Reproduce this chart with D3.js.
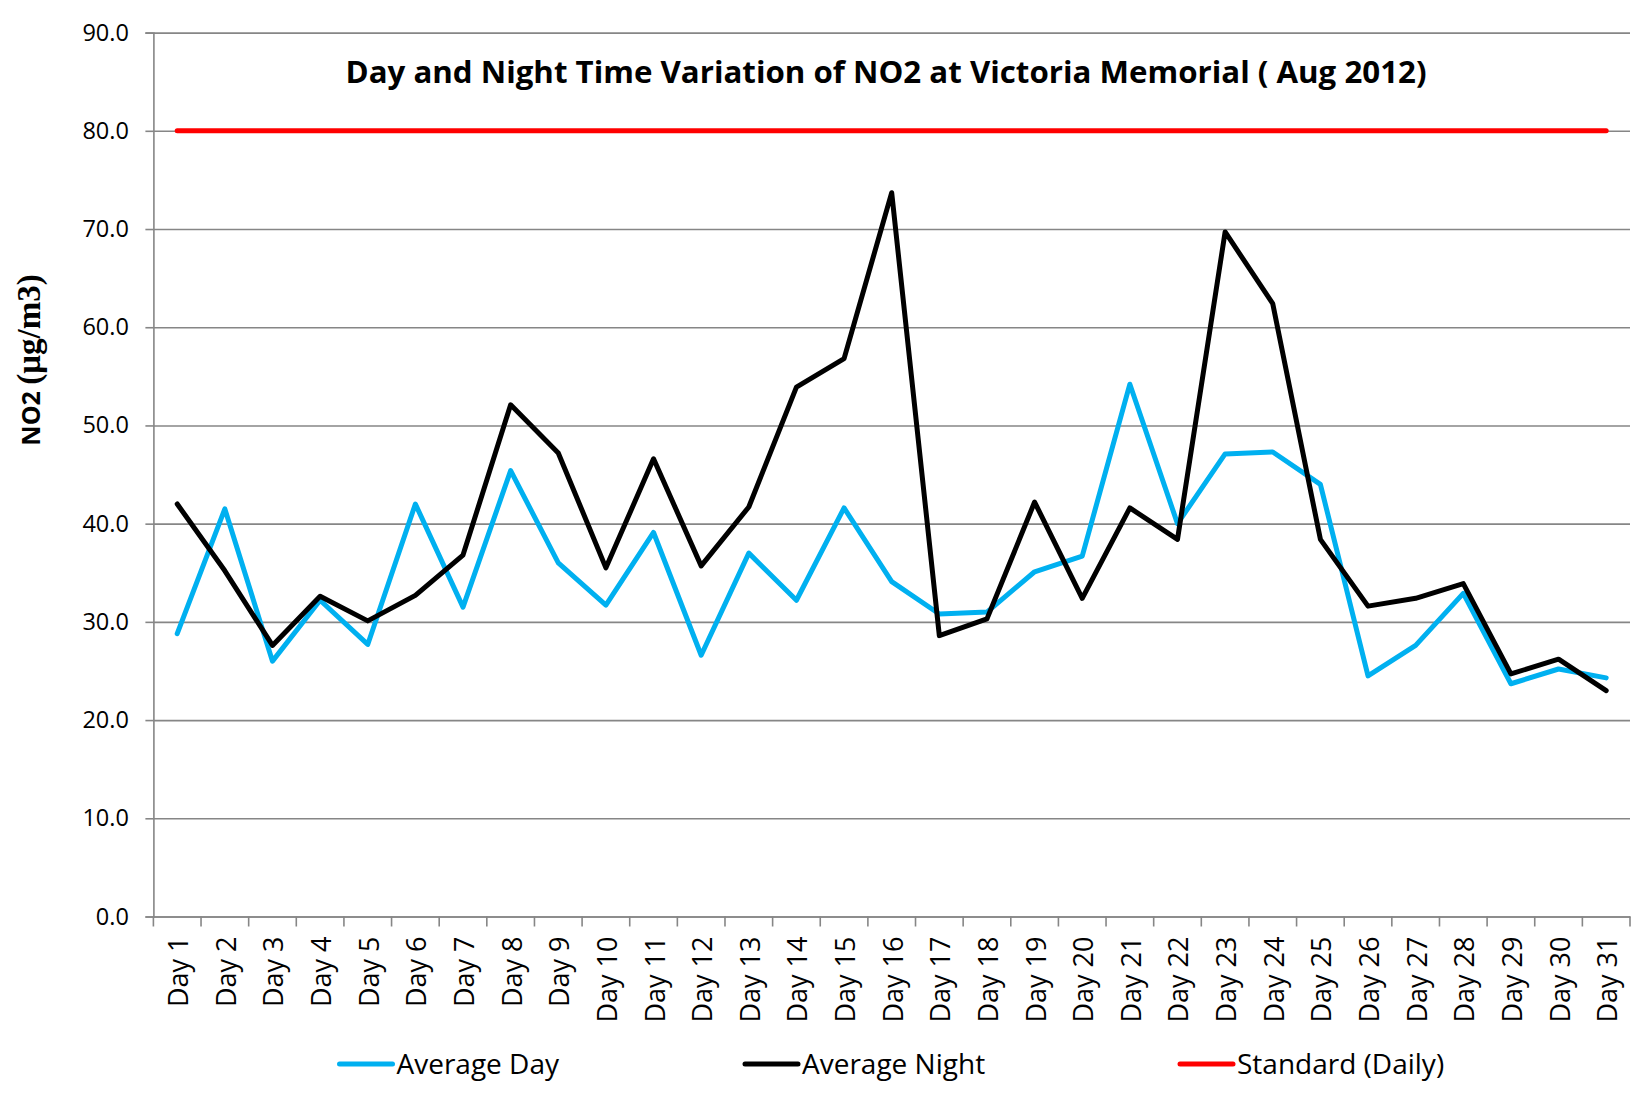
<!DOCTYPE html>
<html>
<head>
<meta charset="utf-8">
<script src="https://cdn.jsdelivr.net/npm/d3@7/dist/d3.min.js"></script>
<style>
  html, body { margin: 0; padding: 0; background: #fff; }
  svg { display: block; }
</style>
</head>
<body>
<svg id="chart" width="1648" height="1094"></svg>
<script>
const categories = ["Day 1","Day 2","Day 3","Day 4","Day 5","Day 6","Day 7","Day 8","Day 9","Day 10",
  "Day 11","Day 12","Day 13","Day 14","Day 15","Day 16","Day 17","Day 18","Day 19","Day 20",
  "Day 21","Day 22","Day 23","Day 24","Day 25","Day 26","Day 27","Day 28","Day 29","Day 30","Day 31"];
const averageDay = [28.8,41.5,26.0,32.2,27.7,42.0,31.5,45.4,36.0,31.7,
  39.1,26.6,37.0,32.2,41.6,34.1,30.8,31.0,35.1,36.7,
  54.2,40.0,47.1,47.3,44.0,24.5,27.6,32.9,23.7,25.2,24.3];
const averageNight = [42.0,35.2,27.6,32.6,30.1,32.7,36.8,52.1,47.2,35.5,
  46.6,35.7,41.7,53.9,56.8,73.7,28.6,30.3,42.2,32.4,
  41.6,38.4,69.7,62.4,38.4,31.6,32.4,33.9,24.7,26.2,23.0];
const standardDaily = [80,80,80,80,80,80,80,80,80,80,80,80,80,80,80,80,80,80,80,80,80,80,80,80,80,80,80,80,80,80,80];
const yTicks = [0,10,20,30,40,50,60,70,80,90];
const seriesNames = ["Average Day","Average Night","Standard (Daily)"];
const seriesColors = ["#00B0F0","#000000","#FF0000"];
const titleText = "Day and Night Time Variation of NO2 at Victoria Memorial ( Aug 2012)";

const svg = d3.select("#chart");
const pLeft = 153.4, pRight = 1630, pTop = 32.6, pBottom = 916.5;
const x = d3.scaleBand().domain(categories).range([pLeft, pRight]).paddingInner(0).paddingOuter(0);
const y = d3.scaleLinear().domain([0, 90]).range([pBottom, pTop]);
const cx = d => x(d) + x.bandwidth() / 2;
const gridColor = "#868686";
const font = "'Open Sans', 'Noto Sans', sans-serif";

// gridlines with left ticks
const yAxis = d3.axisLeft(y).tickValues(yTicks).tickSize(8).tickFormat(d3.format(".1f")).tickPadding(16.5);
const gy = svg.append("g").attr("transform", `translate(${pLeft},0)`).call(yAxis);
gy.select(".domain").attr("stroke", gridColor).attr("stroke-width", 1.6);
gy.selectAll(".tick line").attr("stroke", gridColor).attr("stroke-width", 1.6);
gy.selectAll(".tick text").attr("font-family", font).attr("font-size", 23.5).attr("fill", "#000");
gy.selectAll(".tick").append("line")
  .attr("x1", 0).attr("x2", pRight - pLeft).attr("stroke", gridColor).attr("stroke-width", 1.6);

// x axis
const xAxis = d3.axisBottom(x).tickSize(0).tickPadding(0);
const gx = svg.append("g").attr("transform", `translate(0,${pBottom})`).call(xAxis);
gx.select(".domain").attr("stroke", gridColor).attr("stroke-width", 1.6);
gx.selectAll(".tick text")
  .attr("font-family", font).attr("font-size", 27).attr("fill", "#000")
  .attr("text-anchor", "end")
  .attr("transform", "translate(11,20) rotate(-90)")
  .attr("x", 0).attr("y", 0).attr("dy", 0);
// boundary ticks
const bounds = categories.map(c => x(c)).concat([pRight]);
gx.selectAll(".btick").data(bounds).enter().append("line")
  .attr("x1", d => d).attr("x2", d => d).attr("y1", 0).attr("y2", 10)
  .attr("stroke", gridColor).attr("stroke-width", 1.6);

// lines
const line = d3.line().x((d, i) => cx(categories[i])).y(d => y(d));
[averageDay, averageNight, standardDaily].forEach((s, i) => {
  svg.append("path").datum(s).attr("d", line)
    .attr("fill", "none").attr("stroke", seriesColors[i]).attr("stroke-width", 5)
    .attr("stroke-linejoin", "round").attr("stroke-linecap", "round");
});

// title
svg.append("text").attr("x", 886).attr("y", 83).attr("text-anchor", "middle")
  .attr("font-family", font).attr("font-weight", "bold").attr("font-size", 30)
  .attr("textLength", 1081).attr("lengthAdjust", "spacingAndGlyphs")
  .text(titleText);

// y title
const yt = svg.append("text").attr("transform", "translate(39.5,360) rotate(-90)")
  .attr("text-anchor", "middle").attr("font-weight", "bold");
yt.append("tspan").attr("font-family", font).attr("font-size", 25).text("NO2 ");
yt.append("tspan").attr("font-family", "'Liberation Serif', serif").attr("font-size", 33).text("(μg/m3)");

// legend
const legendX = [339.5, 745, 1180];
seriesNames.forEach((n, i) => {
  svg.append("line").attr("x1", legendX[i]).attr("x2", legendX[i] + 53)
    .attr("y1", 1064).attr("y2", 1064)
    .attr("stroke", seriesColors[i]).attr("stroke-width", 5).attr("stroke-linecap", "round");
  svg.append("text").attr("x", legendX[i] + 57).attr("y", 1073.5)
    .attr("font-family", font).attr("font-size", 28).attr("fill", "#000").text(n);
});
</script>
</body>
</html>
